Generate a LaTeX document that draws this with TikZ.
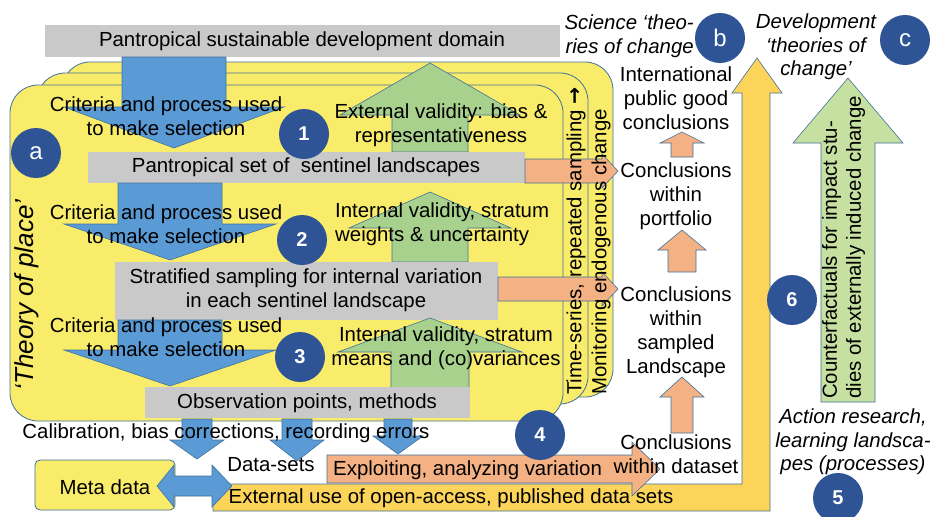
\documentclass[tikz,border=0pt]{standalone}
\usepackage{fontspec}
\setmainfont{Liberation Sans}
\newfontfamily\dejavu{DejaVu Sans}
\definecolor{cardyellow}{HTML}{F9EC6A}
\definecolor{boxgray}{HTML}{C9C9C9}
\definecolor{arrblue}{HTML}{5B9BD5}
\definecolor{arrgreen}{HTML}{A9D18E}
\definecolor{arrorange}{HTML}{F4B183}
\definecolor{arrgold}{HTML}{FCD45A}
\definecolor{arrgreenlt}{HTML}{C5E0A0}
\definecolor{circblue}{HTML}{2E5496}
\definecolor{outl}{HTML}{41719C}
\newcommand{\varr}[7]{\draw[#1] ({#2-#6},#3) -- ({#2-#6},#4) -- ({#2-#7},#4) -- (#2,#5) -- ({#2+#7},#4) -- ({#2+#6},#4) -- ({#2+#6},#3) -- cycle;}
\newcommand{\harr}[7]{\draw[#1] (#3,{#2-#6}) -- (#4,{#2-#6}) -- (#4,{#2-#7}) -- (#5,#2) -- (#4,{#2+#7}) -- (#4,{#2+#6}) -- (#3,{#2+#6}) -- cycle;}
\tikzset{
  txt/.style={font=\fontsize{20.4}{24}\selectfont, align=center, inner sep=0pt},
  itxt/.style={font=\fontsize{20.4}{23.5}\selectfont\itshape, align=center, inner sep=0pt},
  card/.style={draw=outl, line width=0.8pt, fill=cardyellow, rounded corners=28pt},
  graybox/.style={fill=boxgray, draw=none},
  bluearr/.style={fill=arrblue, draw=outl, line width=0.6pt},
  greenarr/.style={fill=arrgreen, draw=outl, line width=0.6pt},
  orangearr/.style={fill=arrorange, draw=outl, line width=0.6pt},
  goldarr/.style={fill=arrgold, draw=outl, line width=0.6pt},
  green6arr/.style={fill=arrgreenlt, draw=outl, line width=0.6pt},
  circ/.style={circle, fill=circblue, text=white, minimum size=50pt, inner sep=0pt, font=\fontsize{20}{24}\selectfont\bfseries},
  circl/.style={circ, font=\fontsize{24}{28}\selectfont},
}
\begin{document}
\begin{tikzpicture}[x=1pt,y=-1pt]
\useasboundingbox (0,0) rectangle (935,517);
\fill[white] (0,0) rectangle (935,517);

% science yellow L arrow
\draw[goldarr] (213,484) -- (742,484) -- (742,93) -- (732,93) -- (757,58) -- (782,93) -- (770,93) -- (770,511) -- (213,511) -- cycle;

% stacked cards
\draw[card] (62,62) rectangle (613,397);
\draw[card] (37,73) rectangle (588,404);
\draw[card] (10,85) rectangle (563,421);

% top domain bar
\fill[graybox] (45,25) rectangle (560,57);
\node[txt] (domain) at (302,41) {Pantropical sustainable development domain};

% row 1
\varr{bluearr}{174}{57}{107}{148}{52}{110}
\varr{greenarr}{430}{152}{115}{63}{38}{90}
\fill[graybox] (88,152) rectangle (525,183);
\node[txt] (set) at (306,167) {Pantropical set of \ sentinel landscapes};
\harr{orangearr}{171}{525}{602}{618}{12}{17}

% row 2
\varr{bluearr}{170}{183}{224}{260}{52}{106}
\varr{greenarr}{430}{262}{228}{192}{38}{81}
\fill[graybox] (115,262) rectangle (498,320);
\node[txt] (strat) at (306,290) {Stratified sampling for internal variation\\in each sentinel landscape};
\harr{orangearr}{289}{498}{602}{618}{12}{17}

% row 3
\varr{bluearr}{170}{320}{350}{386}{52}{106}
\varr{greenarr}{430}{388}{352}{318}{39}{92}
\fill[graybox] (145,387) rectangle (470,418);
\node[txt] (obs) at (307,403) {Observation points, methods};

% vertical strip texts
\node[txt, rotate=90, anchor=west] (ts) at (576,395) {Time-series, repeated sampling {\dejavu\bfseries →}};
\node[txt, rotate=90, anchor=west] (mon) at (601,395) {Monitoring endogenous change};

% row texts
\node[txt] (crit1) at (166,116) {Criteria and process used\\to make selection};
\node[txt] (ext) at (441,125) {External validity: bias \&\\representativeness};
\node[txt] (crit2) at (166,224) {Criteria and process used\\to make selection};
\node[txt, align=left, anchor=west] (int2) at (335,224) {Internal validity, stratum\\weights \& uncertainty};
\node[txt] (crit3) at (166,337) {Criteria and process used\\to make selection};
\node[txt] (int3) at (446,348) {Internal validity, stratum\\means and (co)variances};

\node[txt, font=\fontsize{26}{30}\selectfont\itshape, rotate=90] (place) at (27,295) {‘Theory of place’};

% circles
\node[circl] (ca) at (36,153) {a};
\node[circ] (c1) at (304,134) {1};
\node[circ] (c2) at (302,240) {2};
\node[circ] (c3) at (300,357) {3};

% bottom
\varr{bluearr}{197}{419}{440}{459}{15}{27}
\varr{bluearr}{297}{419}{440}{461}{15}{27}
\varr{bluearr}{398}{419}{436}{454}{14}{25}
\node[txt] (calib) at (226,433) {Calibration, bias corrections, recording errors};

\draw[fill=cardyellow, draw=outl, line width=0.8pt, rounded corners=5pt] (35,460) rectangle (175,510);
\node[txt] (meta) at (105,487) {Meta data};
\draw[bluearr] (157,486) -- (174,465) -- (174,476) -- (212,476) -- (212,465) -- (232,486) -- (212,507) -- (212,496) -- (174,496) -- (174,507) -- cycle;

\node[txt] (data) at (271,465) {Data-sets};
\harr{orangearr}{469}{327}{632}{660}{14}{27}
\node[txt, anchor=west] (expl) at (333,470) {Exploiting, analyzing variation};
\node[txt] (extuse) at (451,498) {External use of open-access, published data sets};

\node[circ] (c4) at (540,435) {4};

% conclusions column
\node[txt] (intl) at (676,98) {International\\public good\\conclusions};
\varr{orangearr}{682}{157}{143}{132}{11}{22}
\node[txt] (port) at (676,196) {Conclusions\\within\\portfolio};
\varr{orangearr}{682}{272}{250}{230}{14}{24}
\node[txt] (samp) at (676,332) {Conclusions\\within\\sampled\\Landscape};
\varr{orangearr}{682}{433}{397}{377}{11}{22}
\node[txt] (dset) at (676,454) {Conclusions\\within dataset};

% science / development headers
\node[itxt, align=right, anchor=east] (sci) at (694,36) {Science ‘theo-\\ries of change};
\node[circl] (cb) at (720,38) {b};
\node[itxt] (dev) at (816,47) {Development\\‘theories of\\change’};
\node[circl] (cc) at (905,40) {c};

% development arrow
\varr{green6arr}{848}{402}{143}{78}{27}{55}
\node[txt, align=left, rotate=90, anchor=north west] (cf) at (822,399) {Counterfactuals for impact stu-\\dies of externally induced change};
\node[circ] (c6) at (792,300) {6};

\node[itxt] (act) at (853,442) {Action research,\\learning landsca-\\pes (processes)};
\node[circ] (c5) at (838,498) {5};
\end{tikzpicture}
\end{document}
